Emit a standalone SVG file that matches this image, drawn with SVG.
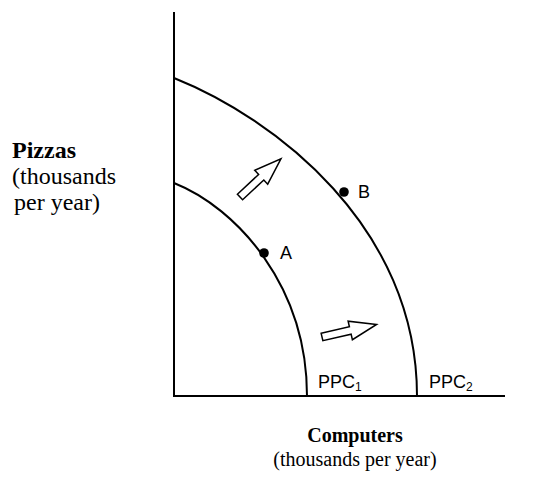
<svg xmlns="http://www.w3.org/2000/svg" width="546" height="479" viewBox="0 0 546 479">
<style>
.ax{stroke:#000;stroke-width:2;fill:none}
.cv{stroke:#000;stroke-width:2;fill:none}
.blk{fill:#fff;stroke:#000;stroke-width:1.5;stroke-linejoin:miter}
.lbl{font-family:"Liberation Sans",Arial,sans-serif;font-size:18px;fill:#000}
.ser{font-family:"Liberation Serif","Times New Roman",serif;font-size:20px;fill:#000}
.big{font-size:24px}
.b{font-weight:bold}
</style>
<defs>
<path id="blockArrow" d="M0,-3.8 L29,-3.8 L29,-9.5 L56,0 L29,9.5 L29,3.8 L0,3.8 Z"/>
</defs>
<g id="axes">
<path class="ax" d="M174,12 V396 H505"/>
</g>
<g id="connectors">
<path id="ppc1" class="cv" d="M174,183 C237,208 307,286 307,396"/>
<path id="ppc2" class="cv" d="M174,78 C274,118 417,226 417,396"/>
</g>
<g id="shift-arrows">
<use href="#blockArrow" class="blk" transform="translate(240,197) rotate(-43)"/>
<use href="#blockArrow" class="blk" transform="translate(322,337) rotate(-13)"/>
</g>
<g id="pointA">
<circle cx="264" cy="253" r="4.8" fill="#000"/>
<text class="lbl" x="280" y="259">A</text>
</g>
<g id="pointB">
<circle cx="344" cy="192" r="4.8" fill="#000"/>
<text class="lbl" x="358" y="198">B</text>
</g>
<g id="label-ppc1">
<text class="lbl" x="318" y="388">PPC<tspan font-size="12" dy="3">1</tspan></text>
</g>
<g id="label-ppc2">
<text class="lbl" x="429" y="388">PPC<tspan font-size="12" dy="3">2</tspan></text>
</g>
<g id="y-label">
<text class="ser big b" x="12" y="158">Pizzas</text>
<text class="ser big" x="12" y="184">(thousands</text>
<text class="ser big" x="14" y="210">per year)</text>
</g>
<g id="x-label">
<text class="ser b" x="355" y="442" text-anchor="middle">Computers</text>
<text class="ser" x="355" y="466" text-anchor="middle">(thousands per year)</text>
</g>
</svg>
